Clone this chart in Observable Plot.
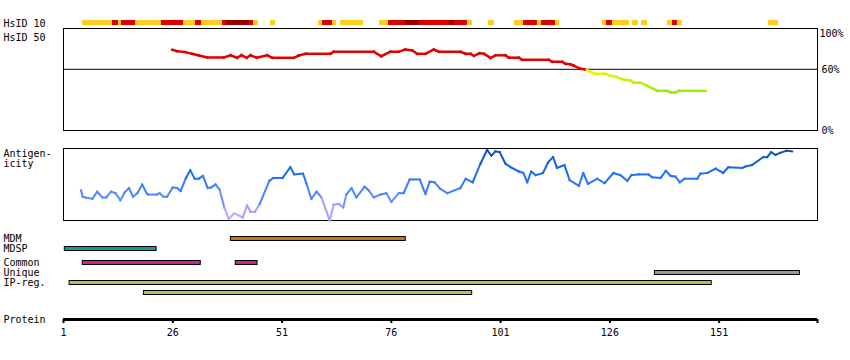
<!DOCTYPE html>
<html><head><meta charset="utf-8">
<script src="https://cdn.jsdelivr.net/npm/d3@7"></script>
<script src="https://cdn.jsdelivr.net/npm/@observablehq/plot@0.6"></script>
<style>
body{margin:0;background:#fff;}
#chart{position:relative;width:850px;height:360px;overflow:hidden;}
#chart svg{position:absolute;left:0;overflow:visible;}
</style></head><body><div id="chart"></div>
<script>
// ---------- data ----------
const residueDomain = [1, 173.5];
const tickValues = [1, 26, 51, 76, 101, 126, 151];

// HsID 10 identity blocks (residue ranges) and level
const hsid10Start = [5.35,12.21,13.58,14.27,17.47,23.42,28.45,31.20,32.57,37.37,38.29,43.55,44.47,48.36,59.34,60.25,62.54,64.37,73.29,75.35,79.24,82.44,89.30,90.45,93.42,98.23,104.17,106.23,109.43,110.35,113.55,124.31,125.22,126.59,131.17,133.23,139.17,140.32,141.46,162.28];
const hsid10End   = [12.21,13.58,14.27,17.47,23.42,28.45,31.20,32.57,37.37,38.29,43.55,44.47,45.61,49.50,60.25,62.54,63.45,69.63,75.35,79.24,82.44,89.30,90.45,93.42,94.57,99.60,106.23,109.43,110.35,113.55,114.47,125.22,126.59,130.48,132.54,134.60,140.32,141.46,142.60,164.57];
const hsid10Level = ["low","mid","low","mid","low","mid","low","mid","low","mid","high","mid","low","low","low","mid","low","low","low","mid","high","mid","high","mid","low","low","low","mid","low","mid","low","low","mid","low","low","low","low","mid","low","low"];

// HsID 50 (% identity)
const hsid50Pos = [25.9,27.0,28.9,30.4,32.0,33.9,37.7,39.2,40.7,41.7,42.9,43.8,45.2,47.6,48.7,53.7,54.8,56.4,62.1,62.8,72.0,73.7,75.8,77.7,79.2,80.8,81.9,83.8,85.7,86.9,91.8,93.0,94.1,94.9,96.2,97.2,98.7,99.8,102.1,102.9,105.2,105.9,112.0,112.8,115.1,115.8,117.0,117.7,119.3,120.8,121.2,122.7,125.0,126.1,127.3,128.8,130.7,131.5,133.0,134.2,136.0,136.8,139.1,139.9,141.0,141.8,147.9];
const hsid50Pct = [79.1,77.7,76.8,75.2,73.5,71.6,71.6,73.8,71.3,73.8,71.3,73.8,71.3,73.8,71.3,71.3,73.5,75.2,75.2,77.2,77.2,72.8,77.2,77.2,79.4,78.4,75.2,75.2,79.4,77.2,77.2,75.2,75.2,73.2,75.8,75.2,71.1,73.7,73.7,71.4,71.4,69.3,69.3,67.4,67.4,65.5,64.9,63.7,60.5,59.5,58.1,55.6,55.6,53.6,52.9,50.3,49.0,46.8,46.8,44.4,40.9,38.9,38.9,37.3,37.3,38.9,38.9];
const hsid50Labels = ["100%", "60%", "0%"];
const hsid50LabelValues = [100, 60, 0];
const hsid50Threshold = 60;

// Antigenicity (relative score 0..1)
const antigenPos = [5.0,5.4,6.0,7.6,8.7,9.9,10.8,11.9,12.9,14.0,15.0,16.0,16.9,17.9,19.0,20.0,20.4,22.4,23.0,23.9,24.7,26.0,27.0,27.8,29.0,30.0,31.0,31.9,32.9,34.0,34.8,35.8,36.7,37.8,38.8,40.0,41.1,42.0,43.0,43.8,44.8,45.9,48.1,49.0,51.1,52.9,53.8,55.8,56.6,57.7,58.9,60.0,61.9,62.8,64.0,65.0,65.7,66.9,68.0,69.9,70.8,72.0,73.5,74.9,76.0,77.7,78.8,80.2,82.5,83.8,84.8,85.9,87.2,88.8,91.8,93.0,94.6,96.4,97.9,98.9,99.8,100.8,102.1,103.3,105.2,106.2,107.1,108.0,109.0,110.7,111.9,113.0,113.9,115.6,116.8,118.9,119.9,121.0,123.1,124.8,126.8,128.4,130.0,130.9,132.6,134.8,135.7,137.6,138.8,139.9,141.0,142.0,143.1,146.0,146.7,148.3,150.2,151.9,153.1,156.3,157.0,158.5,161.1,162.0,162.9,163.9,165.0,166.4,167.7];
const antigenScore = [0.42,0.33,0.32,0.30,0.40,0.32,0.32,0.40,0.38,0.28,0.39,0.45,0.33,0.38,0.50,0.38,0.36,0.36,0.38,0.33,0.33,0.46,0.45,0.41,0.59,0.70,0.58,0.58,0.62,0.45,0.46,0.50,0.43,0.18,0.02,0.10,0.07,0.04,0.21,0.12,0.12,0.23,0.55,0.59,0.59,0.74,0.64,0.65,0.51,0.30,0.40,0.32,0.00,0.22,0.23,0.18,0.36,0.45,0.32,0.47,0.42,0.32,0.36,0.38,0.26,0.38,0.38,0.57,0.57,0.37,0.54,0.53,0.44,0.38,0.45,0.58,0.53,0.79,0.98,0.90,0.96,0.95,0.79,0.74,0.68,0.66,0.53,0.68,0.63,0.66,0.81,0.88,0.73,0.77,0.56,0.48,0.66,0.51,0.58,0.52,0.66,0.63,0.55,0.63,0.64,0.64,0.60,0.59,0.69,0.62,0.61,0.53,0.58,0.58,0.65,0.66,0.72,0.66,0.74,0.73,0.75,0.77,0.88,0.88,0.95,0.91,0.94,0.97,0.96];

// Features
const featureType  = ["MDM","MDSP","Common","Common","Unique","IP-reg.","IP-reg."];
const featureRow   = ["MDM","MDSP","Common","Common","Unique","IP-reg.","IP-reg.#2"];
const featureStart = [39.3, 1.3, 5.4, 40.4, 136.3, 2.4, 19.4];
const featureEnd   = [79.3, 22.3, 32.4, 45.4, 169.5, 149.3, 94.5];
const rowsTop = ["MDM","MDSP"];
const rowsBottom = ["Common","Unique","IP-reg.","IP-reg.#2"];
const rowLabelsTop = ["MDM","MDSP"];
const rowLabelsBottom = ["Common","Unique","IP-reg.",""];
const featureTypes = ["MDM","MDSP","Common","Unique","IP-reg."];

// ---------- helpers ----------
const chart = document.getElementById("chart");
const W = 850, ML = 63, MR = 33;
const font = '"DejaVu Sans Mono", monospace';
const baseStyle = {fontFamily: font, fontSize: "10px", background: "transparent", overflow: "visible", color: "black"};
const xOpts = {domain: residueDomain, axis: null};
function place(svg, top) { svg.style.top = top + "px"; chart.appendChild(svg); }
function segments(xs, ys) {
  const out = [];
  for (let i = 0; i < Math.min(xs.length, ys.length) - 1; i++)
    out.push({x1: xs[i], y1: ys[i], x2: xs[i + 1], y2: ys[i + 1], v: (ys[i] + ys[i + 1]) / 2});
  return out;
}
const leftLabel = (txt, opts = {}) => Plot.text([txt], {text: d => d, frameAnchor: "left", dx: -60, textAnchor: "start", fill: "black", ...opts});

// ---------- HsID 10 ----------
const hsid10 = hsid10Start.map((s, i) => ({start: s, end: hsid10End[i], level: hsid10Level[i]}));
place(Plot.plot({
  width: W, height: 10, marginLeft: ML, marginRight: MR, marginTop: 2, marginBottom: 3,
  x: xOpts, y: {domain: [0, 1], axis: null},
  color: {domain: ["low", "mid", "high"], range: ["#ffcc22", "#dd0000", "#990000"]},
  style: baseStyle,
  marks: [
    Plot.rect(hsid10, {x1: "start", x2: "end", y1: 0, y2: 1, fill: "level"}),
    leftLabel("HsID 10", {dy: 1})
  ]
}), 18);

// ---------- HsID 50 ----------
place(Plot.plot({
  width: W, height: 105, marginLeft: ML, marginRight: MR, marginTop: 1, marginBottom: 2,
  x: xOpts, y: {domain: [0, 100], axis: null},
  color: {type: "linear", domain: [38, 59.99, 60, 100], range: ["#99ee00", "#f6f600", "#e00000", "#e00000"]},
  style: baseStyle,
  marks: [
    Plot.frame({stroke: "black"}),
    Plot.ruleY([hsid50Threshold], {stroke: "black"}),
    Plot.link(segments(hsid50Pos, hsid50Pct), {x1: "x1", y1: "y1", x2: "x2", y2: "y2", stroke: "v", strokeWidth: 2.5, strokeLinecap: "square"}),
    Plot.text([0], {x: residueDomain[1], y: hsid50LabelValues[0], text: () => hsid50Labels[0], textAnchor: "start", lineAnchor: "top", dx: 2, dy: 1, fill: "black"}),
    Plot.text([1, 2], {x: residueDomain[1], y: i => hsid50LabelValues[i], text: i => hsid50Labels[i], textAnchor: "start", dx: 4, fill: "black"}),
    leftLabel("HsID 50", {frameAnchor: "top-left", dy: 5})
  ]
}), 27);

// ---------- Antigenicity ----------
place(Plot.plot({
  width: W, height: 75, marginLeft: ML, marginRight: MR, marginTop: 1, marginBottom: 2,
  x: xOpts, y: {domain: [0, 1], axis: null},
  color: {type: "linear", domain: [0, 0.2, 0.35, 0.6, 0.8, 1], range: ["#bcb0ff", "#9a9cff", "#5288ff", "#1f72ff", "#1062e0", "#0a4c9c"]},
  style: baseStyle,
  marks: [
    Plot.frame({stroke: "black"}),
    Plot.link(segments(antigenPos, antigenScore), {x1: "x1", y1: "y1", x2: "x2", y2: "y2", stroke: "v", strokeWidth: 2, strokeLinecap: "square"}),
    Plot.text(["Antigen-\nicity"], {text: d => d, frameAnchor: "top-left", dx: -60, dy: 1, textAnchor: "start", lineAnchor: "top", lineHeight: 1, fill: "black"})
  ]
}), 147);

// ---------- Features ----------
const features = featureStart.map((s, i) => ({start: s, end: featureEnd[i], row: featureRow[i], type: featureType[i]}));
const featColor = {domain: featureTypes, range: ["#c8780a", "#18989e", "#cc2299", "#999999", "#a4c85a"]};
function featurePlot(rows, labels, top) {
  place(Plot.plot({
    width: W, height: rows.length * 10, marginLeft: ML, marginRight: MR, marginTop: 0, marginBottom: 0,
    x: xOpts, y: {domain: rows, axis: null, padding: 0},
    color: featColor,
    style: baseStyle,
    marks: [
      Plot.barX(features.filter(d => rows.includes(d.row)), {x1: "start", x2: "end", y: "row", fill: "type", stroke: "black", strokeWidth: 1, insetTop: 3.5, insetBottom: 2.5}),
      Plot.text(rows.map((r, i) => ({r, t: labels[i]})), {y: "r", text: "t", frameAnchor: "left", dx: -60, textAnchor: "start", fill: "black"})
    ]
  }), top);
}
featurePlot(rowsTop, rowLabelsTop, 233);
featurePlot(rowsBottom, rowLabelsBottom, 257);

// ---------- Protein axis ----------
place(Plot.plot({
  width: W, height: 40, marginLeft: ML, marginRight: MR, marginTop: 9, marginBottom: 27,
  x: xOpts, y: {domain: [0, 1], range: [9, 13], axis: null},
  style: baseStyle,
  marks: [
    Plot.ruleY([0], {stroke: "black", strokeWidth: 3}),
    Plot.ruleX([...tickValues, residueDomain[1]], {x: d => d, y1: 0, y2: 1, stroke: "black", strokeWidth: 2}),
    Plot.text(tickValues, {x: d => d, y: 1, dy: 9, text: d => String(d), fill: "black"}),
    Plot.text(["Protein"], {x: residueDomain[0], y: 0, dx: -60, text: d => d, textAnchor: "start", fill: "black"})
  ]
}), 310);
</script></body></html>
